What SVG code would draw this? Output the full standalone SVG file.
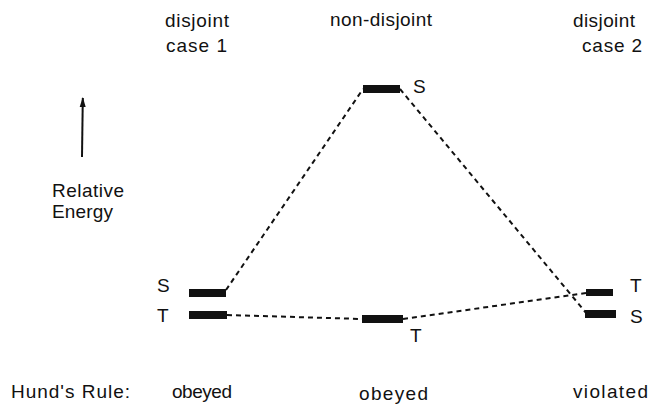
<svg xmlns="http://www.w3.org/2000/svg" width="650" height="405" viewBox="0 0 650 405">
<style>
text{font-family:"Liberation Sans",Arial,sans-serif;font-size:19px;fill:#111}
.bar{fill:#111}
.dash{fill:none;stroke:#111;stroke-width:2;stroke-dasharray:5 4}
</style>
<defs>
<marker id="ah" viewBox="0 0 10 10" refX="9" refY="5" markerWidth="6" markerHeight="5" markerUnits="strokeWidth" orient="auto">
<path d="M0,2 L10,5 L0,8 Z" fill="#111"/>
</marker>
</defs>
<rect width="650" height="405" fill="#fff"/>
<g id="headers">
<text x="165" y="27" textLength="64" lengthAdjust="spacing">disjoint</text>
<text x="166" y="52" textLength="61" lengthAdjust="spacing">case 1</text>
<text x="330" y="26" textLength="102" lengthAdjust="spacing">non-disjoint</text>
<text x="573" y="27" textLength="62" lengthAdjust="spacing">disjoint</text>
<text x="582" y="52" textLength="60" lengthAdjust="spacing">case 2</text>
</g>
<g id="axis">
<line x1="82" y1="157" x2="82.8" y2="98" stroke="#111" stroke-width="2" marker-end="url(#ah)"/>
<text x="52" y="197" textLength="72" lengthAdjust="spacing">Relative</text>
<text x="52" y="218" textLength="61" lengthAdjust="spacing">Energy</text>
</g>
<g id="connectors">
<line class="dash" x1="226" y1="290" x2="363" y2="89"/>
<line class="dash" x1="400" y1="89" x2="587" y2="314"/>
<line class="dash" x1="227" y1="315" x2="362" y2="319"/>
<line class="dash" x1="403" y1="319" x2="586" y2="293"/>
</g>
<g id="case1-S"><rect class="bar" x="189" y="289" width="37" height="8"/><text x="157" y="292">S</text></g>
<g id="case1-T"><rect class="bar" x="189" y="311" width="38" height="8"/><text x="157" y="322">T</text></g>
<g id="nd-S"><rect class="bar" x="363" y="85" width="37" height="8"/><text x="413" y="93">S</text></g>
<g id="nd-T"><rect class="bar" x="362" y="315" width="41" height="8"/><text x="410" y="342">T</text></g>
<g id="case2-T"><rect class="bar" x="586" y="289" width="27" height="7"/><text x="630" y="292">T</text></g>
<g id="case2-S"><rect class="bar" x="585" y="310" width="31" height="8"/><text x="630" y="323">S</text></g>
<g id="hund">
<text x="11" y="398" textLength="119" lengthAdjust="spacing">Hund's Rule:</text>
<text x="172" y="398" textLength="60" lengthAdjust="spacing">obeyed</text>
<text x="359" y="400" textLength="69" lengthAdjust="spacing">obeyed</text>
<text x="573" y="398" textLength="75" lengthAdjust="spacing">violated</text>
</g>
</svg>
